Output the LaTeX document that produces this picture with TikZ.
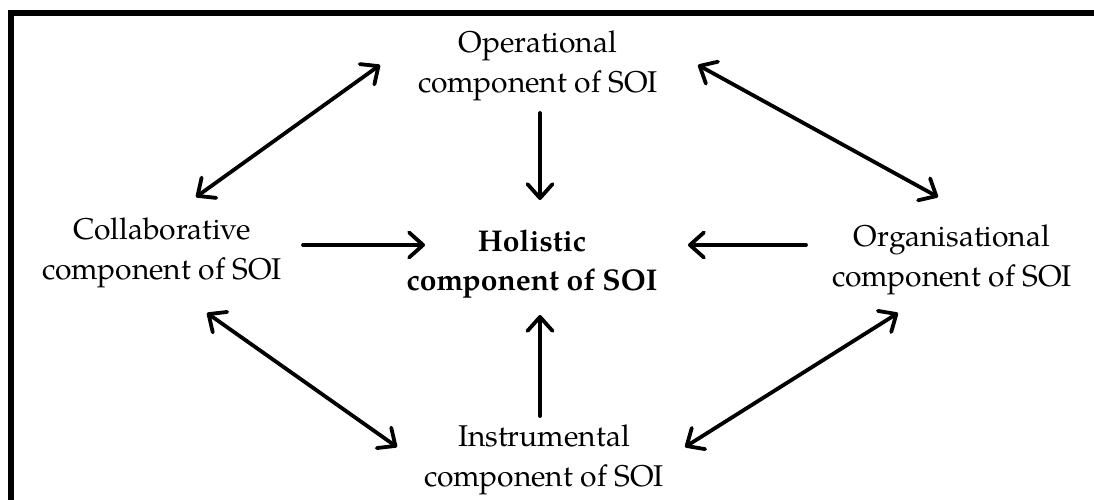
\documentclass[tikz,border=0pt]{standalone}
\usepackage{fontspec}
\setmainfont{TeX Gyre Pagella}
\usetikzlibrary{arrows.meta,calc}
\begin{document}
\begin{tikzpicture}[x=1pt,y=-1pt,
  lbl/.style={align=center,inner sep=0pt,font=\fontsize{30}{39.5}\selectfont},
  >={Straight Barb[length=14pt,width=25pt,line cap=round,line join=round]},
  link/.style={line width=3.8pt,line cap=round}]
  \useasboundingbox (0,0) rectangle (1094,499);
  % frame running off the page on the right and at the bottom
  \begin{scope}
    \clip (0,0) rectangle (1094,499);
    \draw[line width=6pt] (10.5,530) -- (10.5,13) -- (1130,13);
  \end{scope}

  % the five components
  \node[lbl] (op)  at (538,66)  {Operational\\component of SOI};
  \node[lbl] (col) at (162,253) {Collaborative\\component of SOI};
  \node[lbl,font=\fontsize{30}{39.5}\selectfont\bfseries] (hol) at (532,264) {Holistic\\component of SOI};
  \node[lbl] (org) at (952,260) {Organisational\\component of SOI};
  \node[lbl] (ins) at (544,460) {Instrumental\\component of SOI};

  % one-way links into the holistic component
  \draw[link,->] ($(op)+(2,47)$)   -- ($(hol)+(8,-64)$);
  \draw[link,->] ($(col)+(141,-8)$) -- ($(hol)+(-107,-19)$);
  \draw[link,->] ($(org)+(-146,-15)$) -- ($(hol)+(156,-19)$);
  \draw[link,->] ($(ins)+(-4,-44)$) -- ($(hol)+(8,51)$);

  % two-way links around the ring
  \draw[link,<->] ($(op)+(-158,-1)$)  -- ($(col)+(34,-56)$);
  \draw[link,<->] ($(op)+(160,-1)$)   -- ($(org)+(-14,-63)$);
  \draw[link,<->] ($(col)+(45,60)$)  -- ($(ins)+(-147,-13)$);
  \draw[link,<->] ($(org)+(-54,53)$) -- ($(ins)+(141,-13)$);
\end{tikzpicture}
\end{document}
